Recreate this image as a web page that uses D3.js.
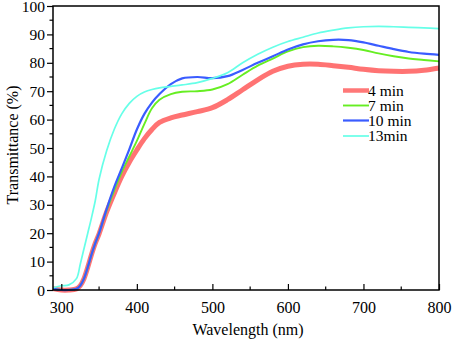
<!DOCTYPE html>
<html>
<head>
<meta charset="utf-8">
<script src="https://cdn.jsdelivr.net/npm/d3@7"></script>
<style>
  body { margin: 0; background: #fff; }
  svg { display: block; }
  svg text { font-family: "Liberation Serif", "Times New Roman", "DejaVu Serif", serif !important; }
</style>
</head>
<body>
<svg id="chart" width="452" height="341"></svg>
<script>
const wavelengths = [289, 300, 310, 320, 325, 330, 335, 340, 345, 350, 360, 370, 380, 390, 400, 410, 420, 430, 445, 460, 480, 500, 520, 540, 560, 580, 600, 620, 640, 660, 680, 700, 720, 740, 760, 780, 800];
const seriesNames = ["4 min", "7 min", "10 min", "13min"];
const t4min  = [0.5, 0, 0, 0.4, 1.5, 4, 8, 12.5, 16.5, 19.8, 27.5, 34, 40, 45, 49.3, 53.3, 56.5, 59, 60.6, 61.6, 62.8, 64.2, 67, 70.5, 74, 77, 78.8, 79.5, 79.5, 79, 78.4, 77.7, 77.2, 77, 77, 77.4, 78.2];
const t7min  = [0.5, 0, 0, 0.4, 1.5, 4, 8, 12.5, 16.5, 20, 28, 35, 41.5, 47, 52.5, 58.5, 64, 67, 69, 69.8, 70, 70.6, 72.5, 75.8, 79, 81.5, 84, 85.5, 86, 85.8, 85.3, 84.5, 83.3, 82.3, 81.5, 81, 80.5];
const t10min = [0.5, 0, 0, 0.4, 1.5, 4, 8, 12.5, 16.5, 20, 28.5, 36.2, 42.8, 49.5, 56.5, 62, 66, 69, 72.5, 74.5, 75, 74.6, 75.3, 77.5, 80, 82.3, 84.7, 86.5, 87.6, 88.1, 88, 87.2, 86, 84.8, 83.8, 83.2, 82.8];
const t13min = [0.8, 1.5, 1.8, 4, 9, 14.5, 20, 25.5, 31.5, 39, 49, 56.5, 62, 65.7, 68.2, 69.7, 70.6, 71.2, 71.7, 72.2, 73, 74.5, 76.5, 80, 83, 85.5, 87.5, 89, 90.5, 91.5, 92.3, 92.7, 92.8, 92.7, 92.5, 92.3, 92];
const xTicks = [300, 400, 500, 600, 700, 800];
const yTicks = [0, 10, 20, 30, 40, 50, 60, 70, 80, 90, 100];

const seriesValues = [t4min, t7min, t10min, t13min];
const colors = ["#ff6060", "#66ee22", "#3a5cff", "#66ffe8"];
const widths = [5, 1.9, 2.2, 1.7];
const serif = "'Liberation Serif', 'Times New Roman', serif";

const svg = d3.select("#chart");
const mLeft = 53, mRight = 439, mTop = 6, mBottom = 290;
const x = d3.scaleLinear().domain([289, 800]).range([mLeft, mRight]);
const y = d3.scaleLinear().domain([0, 100]).range([mBottom, mTop]);

// curves
const line = d3.line().x(d => x(d[0])).y(d => y(d[1])).curve(d3.curveCatmullRom.alpha(0.5));
seriesValues.forEach((vals, i) => {
  const pts = wavelengths.map((w, j) => [w, vals[j]]);
  svg.append("path")
    .attr("d", line(pts))
    .attr("fill", "none")
    .attr("stroke", colors[i])
    .attr("stroke-width", widths[i])
    .attr("stroke-opacity", i === 0 ? 0.88 : 1)
    .attr("stroke-linejoin", "round");
});

// frame
svg.append("rect")
  .attr("x", mLeft).attr("y", mTop)
  .attr("width", mRight - mLeft).attr("height", mBottom - mTop)
  .attr("fill", "none").attr("stroke", "#000").attr("stroke-width", 1.5);

// y axis: outward ticks
const yAxis = d3.axisLeft(y).tickValues(yTicks).tickSize(6).tickPadding(2).tickFormat(d3.format("d"));
const gy = svg.append("g").attr("transform", `translate(${mLeft},0)`).call(yAxis)
  .attr("font-family", serif).attr("font-size", 15.5);
gy.select(".domain").remove();
gy.selectAll("line").attr("stroke", "#000").attr("stroke-width", 1.2);
gy.selectAll("text").attr("fill", "#000").attr("dy", "0.33em");
const yMinor = d3.range(5, 100, 10);
svg.append("g").selectAll("line").data(yMinor).join("line")
  .attr("x1", mLeft - 3.5).attr("x2", mLeft)
  .attr("y1", d => y(d)).attr("y2", d => y(d))
  .attr("stroke", "#000").attr("stroke-width", 1.2);

// x axis: inward ticks
const xAxis = d3.axisBottom(x).tickValues(xTicks).tickSize(-6).tickPadding(12).tickFormat(d3.format("d"));
const gx = svg.append("g").attr("transform", `translate(0,${mBottom})`).call(xAxis)
  .attr("font-family", serif).attr("font-size", 16);
gx.select(".domain").remove();
gx.selectAll("line").attr("stroke", "#000").attr("stroke-width", 1.2);
gx.selectAll("text").attr("fill", "#000");
const xMinor = d3.range(350, 800, 100);
svg.append("g").selectAll("line").data(xMinor).join("line")
  .attr("x1", d => x(d)).attr("x2", d => x(d))
  .attr("y1", mBottom).attr("y2", mBottom - 3.5)
  .attr("stroke", "#000").attr("stroke-width", 1.2);

// axis titles
svg.append("text").attr("x", 248).attr("y", 335)
  .attr("font-family", serif)
  .attr("text-anchor", "middle").attr("font-size", 16).text("Wavelength (nm)");
svg.append("text").attr("transform", `translate(18,145) rotate(-90)`)
  .attr("font-family", serif)
  .attr("text-anchor", "middle").attr("font-size", 16).text("Transmittance (%)");

// legend
const legendY = [90.5, 105.5, 120.5, 136];
const lg = svg.append("g").attr("font-family", serif);
seriesNames.forEach((name, i) => {
  lg.append("line").attr("x1", 343).attr("x2", 369)
    .attr("y1", legendY[i]).attr("y2", legendY[i])
    .attr("stroke", colors[i]).attr("stroke-width", i === 0 ? 4.5 : widths[i])
    .attr("stroke-opacity", i === 0 ? 0.85 : 1);
  lg.append("text").attr("x", 368).attr("y", legendY[i] + 5)
    .attr("font-size", 15.5).text(name);
});
</script>
</body>
</html>
